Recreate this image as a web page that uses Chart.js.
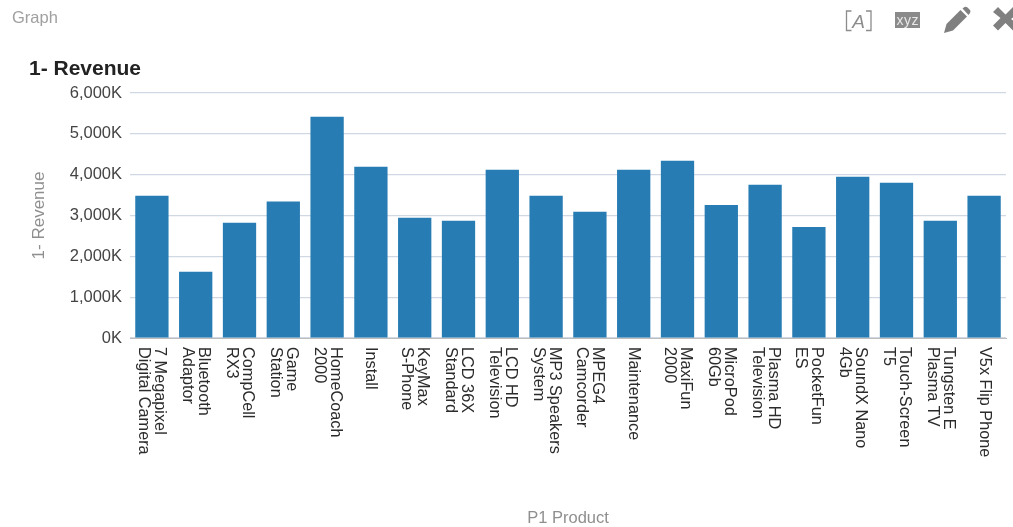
<!DOCTYPE html>
<html>
<head>
<meta charset="utf-8">
<title>Graph</title>
<script src="https://cdn.jsdelivr.net/npm/chart.js@4"></script>
<style>
  html, body { margin: 0; padding: 0; background: #fff; overflow: hidden; }
  body { width: 1013px; height: 527px; position: relative; font-family: "Liberation Sans", Arial, sans-serif; }
  #wrap { position: absolute; left: 0; top: 0; width: 1013px; height: 527px; }
  .label { position: absolute; white-space: nowrap; }
  #panelName { left: 12px; top: 8px; font-size: 16.5px; color: #a0a0a0; }
  #chartName { left: 29px; top: 56px; font-size: 21px; font-weight: bold; color: #222; }
  .icon { position: absolute; top: 0; }
</style>
</head>
<body>
<div id="wrap"><canvas id="revenueChart" width="1013" height="527"></canvas></div>
<div class="label" id="panelName">Graph</div>
<div class="label" id="chartName">1- Revenue</div>
<svg class="icon" width="1013" height="40" style="left:0" xmlns="http://www.w3.org/2000/svg">
  <path d="M851.5 11h-5v19.5h5M866 11h5v19.5h-5" fill="none" stroke="#8c8c8c" stroke-width="1.3"/>
  <text x="858.5" y="27.5" font-size="19" font-style="italic" font-family="Liberation Sans" fill="#8c8c8c" text-anchor="middle">A</text>
  <rect x="895" y="12" width="25" height="16" fill="#8a8a8a"/>
  <text x="907.5" y="24.5" font-size="14" font-family="Liberation Sans" fill="#e8e8e8" text-anchor="middle" textLength="22">xyz</text>
  <path d="M944 33l2.500-9 14-14 6.500 6.500-14 14z" fill="#808080"/>
  <path d="M962.500 8.500l2-1.500q1.500-.5 3 .5l2.500 2.500q1 1.500 0 3l-1.500 2z" fill="#808080"/>
  <path d="M993 12l5-5 7.500 7.500 7.500-7.500v10.500l-2 1.500 2 1.500v10l-7.500-7.500-7.500 7.500-5-5 7.500-7.500z" fill="#808080"/>
</svg>
<script>
const products = [
  ['7 Megapixel', 'Digital Camera'], ['Bluetooth', 'Adaptor'], ['CompCell', 'RX3'], ['Game', 'Station'],
  ['HomeCoach', '2000'], ['Install'], ['KeyMax', 'S-Phone'], ['LCD 36X', 'Standard'],
  ['LCD HD', 'Television'], ['MP3 Speakers', 'System'], ['MPEG4', 'Camcorder'], ['Maintenance'],
  ['MaxiFun', '2000'], ['MicroPod', '60Gb'], ['Plasma HD', 'Television'], ['PocketFun', 'ES'],
  ['SoundX Nano', '4Gb'], ['Touch-Screen', 'T5'], ['Tungsten E', 'Plasma TV'], ['V5x Flip Phone']
];
// revenue in thousands
const revenue = [3485, 1620, 2820, 3340, 5420, 4195, 2945, 2870, 4120, 3485,
                 3090, 4120, 4340, 3260, 3755, 2720, 3950, 3800, 2870, 3485];
const yTicks = [0, 1000, 2000, 3000, 4000, 5000, 6000];

// Chart.js right-aligns rotated ticks, so clockwise labels get drawn here
const clockwiseLabels = {
  id: 'clockwiseLabels',
  afterDraw(chart) {
    const ctx = chart.ctx;
    const xScale = chart.scales.x;
    ctx.save();
    ctx.font = '16.3px "Liberation Sans"';
    ctx.fillStyle = '#2b2b2b';
    ctx.textAlign = 'left';
    ctx.textBaseline = 'middle';
    products.forEach((lines, i) => {
      const x = xScale.getPixelForValue(i);
      lines.forEach((line, n) => {
        const offset = (lines.length - 1) * 8 - n * 16;
        ctx.save();
        ctx.translate(x + offset, 347);
        ctx.rotate(Math.PI / 2);
        ctx.fillText(line, 0, 0);
        ctx.restore();
      });
    });
    ctx.restore();
  }
};

new Chart(document.getElementById('revenueChart'), {
  type: 'bar',
  data: {
    labels: products,
    datasets: [{
      label: '1- Revenue',
      data: revenue,
      backgroundColor: '#267cb3',
      barPercentage: 0.76,
      categoryPercentage: 1
    }]
  },
  options: {
    responsive: false,
    animation: false,
    layout: { padding: { top: 93, right: 7, left: 0, bottom: 0 } },
    plugins: { legend: { display: false }, tooltip: { enabled: false } },
    scales: {
      x: {
        grid: { display: false },
        border: { color: '#bdbdbd', width: 1 },
        ticks: { display: false },
        title: {
          display: true,
          text: 'P1 Product',
          color: '#8f8f8f',
          font: { family: 'Liberation Sans', size: 16.5 },
          padding: { top: 0, bottom: -1 }
        },
        afterFit(scale) { scale.height = 189; }
      },
      y: {
        min: 0,
        max: 6000,
        afterBuildTicks(scale) { scale.ticks = yTicks.map(v => ({ value: v })); },
        grid: { color: '#cfd8e3', lineWidth: 1.2, drawTicks: false },
        border: { display: false },
        ticks: {
          padding: 8,
          color: '#444',
          font: { family: 'Liberation Sans', size: 16.5 },
          callback: v => v.toLocaleString('en-US') + 'K'
        },
        title: {
          display: true,
          text: '1- Revenue',
          color: '#8f8f8f',
          font: { family: 'Liberation Sans', size: 17 },
          padding: { top: 29, bottom: 0 }
        },
        afterFit(scale) { scale.width = 130; }
      }
    }
  },
  plugins: [clockwiseLabels]
});
</script>
</body>
</html>
